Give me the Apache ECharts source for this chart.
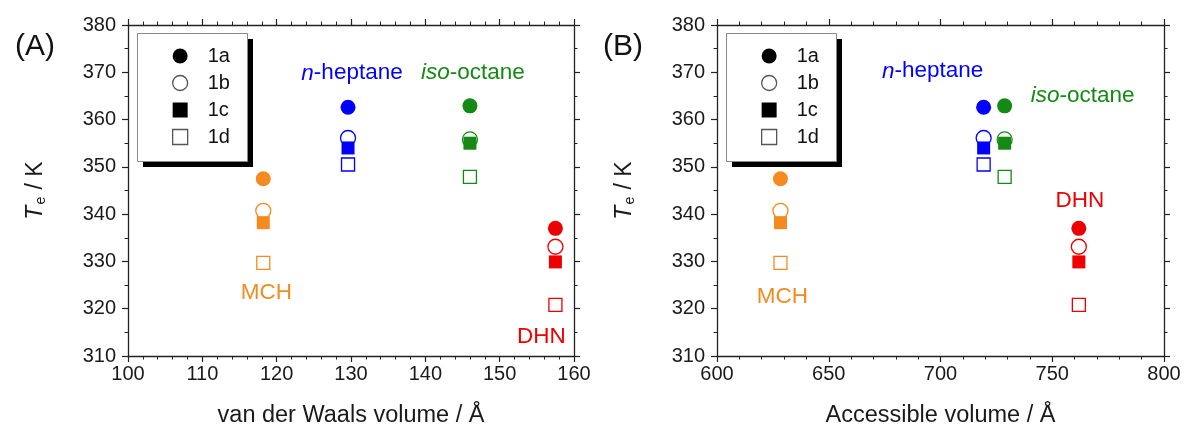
<!DOCTYPE html>
<html>
<head>
<meta charset="utf-8">
<script src="https://cdn.jsdelivr.net/npm/echarts@6/dist/echarts.min.js"></script>
<style>
html,body{margin:0;padding:0;background:#fff;}
#chart{width:1184px;height:429px;}
</style>
</head>
<body>
<div id="chart"></div>
<script>
// ---- data ----
const compounds = ['MCH', 'n-heptane', 'iso-octane', 'DHN'];
const compoundColors = ['#F58A1F', '#0000FF', '#148A14', '#EE0000'];
const vdwVolume = [118.2, 129.6, 146.0, 157.5];
const accessibleVolume = [628.4, 719.3, 728.7, 761.9];
const te1a = [347.5, 362.6, 362.9, 337.0];
const te1b = [340.7, 356.1, 355.8, 333.1];
const te1c = [338.2, 354.0, 355.0, 329.9];
const te1d = [329.7, 350.5, 347.9, 320.8];
const seriesNames = ['1a', '1b', '1c', '1d'];
const yRange = [310, 380, 10];
const xRangeA = [100, 160, 10];
const xRangeB = [600, 800, 50];

// ---- styles ----
const FONT = 'Arial, "Liberation Sans", sans-serif';
const AX = '#222';
const teSets = [te1a, te1b, te1c, te1d];
const symbolDefs = [
  { symbol: 'circle', size: 15, hollow: false },
  { symbol: 'circle', size: 15, hollow: true },
  { symbol: 'rect', size: 13, hollow: false },
  { symbol: 'rect', size: 13, hollow: true }
];
// label anchor per panel: compound index -> [series index, dx, dy]
const labelAnchors = [
  { 0: [3, 3, 30], 1: [0, 4, -34], 2: [0, 3, -33], 3: [3, -14, 32] },
  { 0: [3, 2, 34], 1: [0, -51, -36], 2: [0, 78, -10], 3: [0, 1, -28] }
];
const LABEL_FS = 22.5;
function labelText(name) {
  if (name === 'n-heptane') return '{i|n}{n|-heptane}';
  if (name === 'iso-octane') return '{i|iso}{n|-octane}';
  return '{n|' + name + '}';
}

function makeXAxes(grid, range, minorSplit, name) {
  const common = {
    gridIndex: grid, type: 'value', min: range[0], max: range[1], interval: range[2],
    splitLine: { show: false },
    axisLine: { show: true, onZero: false, lineStyle: { color: AX, width: 1.3 } },
    axisTick: { show: true, inside: false, length: 6, lineStyle: { color: AX, width: 1.2 } },
    minorTick: { show: true, splitNumber: minorSplit, length: 3.5, lineStyle: { color: AX, width: 1 } }
  };
  return [
    Object.assign({}, common, {
      position: 'bottom',
      axisLabel: { fontSize: 20, color: '#1a1a1a', fontFamily: FONT, margin: 8 },
      name: name, nameLocation: 'middle', nameGap: 48,
      nameTextStyle: { fontSize: 23.5, color: '#1a1a1a', fontFamily: FONT }
    }),
    Object.assign({}, common, { position: 'top', axisLabel: { show: false } })
  ];
}
function makeYAxes(grid) {
  const common = {
    gridIndex: grid, type: 'value', min: yRange[0], max: yRange[1], interval: yRange[2],
    splitLine: { show: false },
    axisLine: { show: true, onZero: false, lineStyle: { color: AX, width: 1.3 } },
    axisTick: { show: true, inside: false, length: 6, lineStyle: { color: AX, width: 1.2 } },
    minorTick: { show: true, splitNumber: 2, length: 3.5, lineStyle: { color: AX, width: 1 } }
  };
  return [
    Object.assign({}, common, {
      position: 'left',
      axisLabel: { fontSize: 20, color: '#1a1a1a', fontFamily: FONT, margin: 12 },
      name: '{t|T}{e|e}{k| / K}', nameLocation: 'middle', nameGap: 80, nameRotate: 90,
      nameTextStyle: {
        rich: {
          t: { fontSize: 23, fontStyle: 'italic', color: '#1a1a1a', fontFamily: FONT },
          e: { fontSize: 14, color: '#1a1a1a', fontFamily: FONT, verticalAlign: 'bottom', padding: [10, 1, 0, 1] },
          k: { fontSize: 23, color: '#1a1a1a', fontFamily: FONT }
        }
      }
    }),
    Object.assign({}, common, { position: 'right', axisLabel: { show: false } })
  ];
}

function makeSeries(panel, xs) {
  const out = [];
  teSets.forEach((te, k) => {
    const def = symbolDefs[k];
    const data = compounds.map((c, i) => {
      const col = compoundColors[i];
      const item = {
        value: [xs[i], te[i]],
        itemStyle: def.hollow
          ? { color: '#fff', borderColor: col, borderWidth: 1.3, opacity: 1 }
          : { color: col, borderWidth: 0, opacity: 1 }
      };
      const anc = labelAnchors[panel][i];
      if (anc && anc[0] === k) {
        item.label = {
          show: true, position: 'inside', offset: [anc[1], anc[2]],
          formatter: labelText(c), color: col,
          rich: {
            i: { fontStyle: 'italic', fontSize: LABEL_FS, fontFamily: FONT, color: col },
            n: { fontSize: LABEL_FS, fontFamily: FONT, color: col }
          }
        };
      }
      return item;
    });
    out.push({
      type: 'scatter', name: seriesNames[k],
      xAxisIndex: panel * 2, yAxisIndex: panel * 2,
      symbol: def.symbol, symbolSize: def.size,
      itemStyle: def.hollow ? { color: '#fff', borderColor: '#000', borderWidth: 1.3, opacity: 1 } : { color: '#000', opacity: 1 },
      label: { show: false },
      emphasis: { disabled: true },
      animation: false,
      z: 2 + k,
      data: data
    });
  });
  return out;
}

function makeLegend(boxLeft) {
  return {
    orient: 'vertical', left: boxLeft + 35, top: 46,
    padding: 0,
    itemWidth: 15, itemHeight: 15, itemGap: 7,
    selectedMode: false,
    z: 10,
    textStyle: { fontSize: 20, color: '#111', fontFamily: FONT, padding: [0, 0, 0, 15] },
    data: seriesNames.map((n, k) => ({
      name: n,
      icon: symbolDefs[k].symbol,
      itemStyle: symbolDefs[k].hollow
        ? { color: '#fff', borderColor: '#555', borderWidth: 1.3 }
        : { color: '#000', borderWidth: 0 }
    }))
  };
}
function legendBox(boxLeft) {
  return [
    { type: 'rect', left: boxLeft + 6, top: 39, z: 5,
      shape: { width: 110, height: 128 }, style: { fill: '#000' } },
    { type: 'rect', left: boxLeft, top: 33, z: 6,
      shape: { width: 110, height: 128 }, style: { fill: '#fff', stroke: '#888', lineWidth: 1 } }
  ];
}

const option = {
  backgroundColor: '#fff',
  animation: false,
  title: [
    { text: '(A)', left: 10, top: 27, textStyle: { fontSize: 30, fontWeight: 'normal', color: '#111', fontFamily: FONT } },
    { text: '(B)', left: 598, top: 27, textStyle: { fontSize: 30, fontWeight: 'normal', color: '#111', fontFamily: FONT } }
  ],
  grid: [
    { left: 128, right: 610, top: 25, bottom: 73, containLabel: false, outerBoundsMode: 'none' },
    { left: 717, right: 20, top: 25, bottom: 73, containLabel: false, outerBoundsMode: 'none' }
  ],
  legend: [makeLegend(137), makeLegend(726)],
  graphic: [].concat(legendBox(137), legendBox(726)),
  xAxis: [].concat(
    makeXAxes(0, xRangeA, 5, 'van der Waals volume / Å'),
    makeXAxes(1, xRangeB, 5, 'Accessible volume / Å')
  ),
  yAxis: [].concat(makeYAxes(0), makeYAxes(1)),
  series: [].concat(makeSeries(0, vdwVolume), makeSeries(1, accessibleVolume))
};

const chart = echarts.init(document.getElementById('chart'), null, { renderer: 'canvas' });
chart.setOption(option);
</script>
</body>
</html>
